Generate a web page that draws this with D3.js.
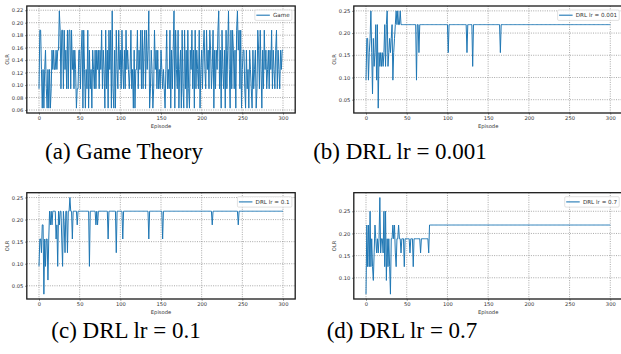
<!DOCTYPE html>
<html>
<head>
<meta charset="utf-8">
<script src="https://cdn.jsdelivr.net/npm/d3@7/dist/d3.min.js"></script>
<style>
  body { margin: 0; background: #fff; }
  svg { display: block; }
</style>
</head>
<body>
<svg id="fig" width="621" height="354"></svg>
<script>
// OLR per episode (episode = array index, 0..300)
const olrGame = [
  0.094,0.188,0.188,0.125,0.063,0.125,0.063,0.125,0.156,0.094,
  0.063,0.125,0.063,0.125,0.063,0.094,0.156,0.125,0.156,0.125,
  0.125,0.156,0.125,0.156,0.156,0.219,0.188,0.094,0.188,0.188,
  0.094,0.188,0.125,0.156,0.094,0.188,0.094,0.188,0.188,0.094,
  0.188,0.125,0.156,0.094,0.156,0.125,0.063,0.094,0.094,0.156,
  0.156,0.094,0.156,0.188,0.063,0.188,0.125,0.063,0.125,0.094,
  0.188,0.063,0.156,0.094,0.125,0.063,0.156,0.125,0.094,0.156,
  0.094,0.156,0.125,0.156,0.094,0.156,0.125,0.188,0.094,0.156,
  0.125,0.063,0.188,0.094,0.156,0.063,0.188,0.125,0.188,0.063,
  0.219,0.094,0.063,0.156,0.063,0.188,0.125,0.094,0.188,0.125,
  0.156,0.094,0.188,0.125,0.094,0.156,0.094,0.188,0.125,0.156,
  0.125,0.094,0.125,0.188,0.094,0.125,0.063,0.156,0.063,0.125,
  0.125,0.188,0.094,0.156,0.125,0.188,0.094,0.188,0.094,0.156,
  0.188,0.094,0.188,0.125,0.156,0.219,0.063,0.094,0.156,0.125,
  0.063,0.094,0.188,0.125,0.156,0.094,0.156,0.094,0.125,0.094,
  0.156,0.125,0.094,0.125,0.094,0.063,0.125,0.188,0.094,0.125,
  0.094,0.188,0.063,0.156,0.094,0.156,0.219,0.063,0.188,0.125,
  0.094,0.188,0.063,0.125,0.156,0.063,0.188,0.094,0.063,0.188,
  0.094,0.156,0.063,0.188,0.094,0.063,0.156,0.125,0.188,0.094,
  0.156,0.063,0.188,0.094,0.156,0.125,0.094,0.188,0.063,0.125,
  0.156,0.094,0.156,0.188,0.125,0.094,0.188,0.125,0.156,0.094,
  0.188,0.156,0.094,0.125,0.188,0.063,0.156,0.094,0.156,0.125,
  0.188,0.219,0.094,0.156,0.063,0.188,0.125,0.094,0.156,0.063,
  0.188,0.094,0.156,0.219,0.125,0.063,0.188,0.094,0.188,0.156,
  0.094,0.156,0.063,0.188,0.219,0.156,0.188,0.094,0.188,0.063,
  0.125,0.156,0.156,0.094,0.063,0.156,0.094,0.125,0.063,0.156,
  0.125,0.094,0.063,0.156,0.094,0.125,0.156,0.063,0.094,0.188,
  0.156,0.094,0.188,0.125,0.063,0.156,0.094,0.188,0.125,0.156,
  0.094,0.125,0.156,0.094,0.156,0.125,0.188,0.094,0.156,0.125,
  0.094,0.156,0.188,0.094,0.156,0.125,0.094,0.156,0.125,0.156,
  0.156
];

const olrLr0001 = [
  0.094,0.188,0.188,0.094,0.156,0.188,0.250,0.156,0.063,0.188,
  0.125,0.156,0.219,0.094,0.219,0.031,0.156,0.125,0.156,0.125,
  0.156,0.125,0.156,0.219,0.125,0.219,0.250,0.125,0.156,0.188,
  0.156,0.188,0.219,0.094,0.156,0.188,0.219,0.250,0.219,0.250,
  0.219,0.219,0.250,0.219,0.219,0.219,0.219,0.219,0.219,0.219,
  0.219,0.219,0.219,0.219,0.219,0.219,0.219,0.219,0.219,0.219,
  0.219,0.219,0.094,0.219,0.219,0.156,0.219,0.219,0.219,0.219,
  0.219,0.219,0.219,0.219,0.219,0.219,0.219,0.219,0.219,0.219,
  0.219,0.219,0.219,0.219,0.219,0.219,0.219,0.219,0.219,0.219,
  0.219,0.219,0.219,0.219,0.219,0.219,0.219,0.219,0.219,0.219,
  0.219,0.156,0.219,0.219,0.219,0.219,0.219,0.219,0.219,0.219,
  0.219,0.219,0.219,0.219,0.219,0.219,0.219,0.219,0.219,0.219,
  0.219,0.219,0.219,0.219,0.156,0.219,0.219,0.219,0.219,0.219,
  0.219,0.125,0.219,0.219,0.219,0.219,0.219,0.219,0.219,0.219,
  0.219,0.219,0.219,0.219,0.219,0.219,0.219,0.219,0.219,0.219,
  0.219,0.219,0.219,0.219,0.219,0.219,0.219,0.219,0.219,0.219,
  0.219,0.219,0.219,0.219,0.219,0.156,0.219,0.219,0.219,0.219,
  0.219,0.219,0.219,0.219,0.219,0.219,0.219,0.219,0.219,0.219,
  0.219,0.219,0.219,0.219,0.219,0.219,0.219,0.219,0.219,0.219,
  0.219,0.219,0.219,0.219,0.219,0.219,0.219,0.219,0.219,0.219,
  0.219,0.219,0.219,0.219,0.219,0.219,0.219,0.219,0.219,0.219,
  0.219,0.219,0.219,0.219,0.219,0.219,0.219,0.219,0.219,0.219,
  0.219,0.219,0.219,0.219,0.219,0.219,0.219,0.219,0.219,0.219,
  0.219,0.219,0.219,0.219,0.219,0.219,0.219,0.219,0.219,0.219,
  0.219,0.219,0.219,0.219,0.219,0.219,0.219,0.219,0.219,0.219,
  0.219,0.219,0.219,0.219,0.219,0.219,0.219,0.219,0.219,0.219,
  0.219,0.219,0.219,0.219,0.219,0.219,0.219,0.219,0.219,0.219,
  0.219,0.219,0.219,0.219,0.219,0.219,0.219,0.219,0.219,0.219,
  0.219,0.219,0.219,0.219,0.219,0.219,0.219,0.219,0.219,0.219,
  0.219,0.219,0.219,0.219,0.219,0.219,0.219,0.219,0.219,0.219,
  0.219
];

const olrLr01 = [
  0.094,0.156,0.156,0.125,0.188,0.188,0.031,0.156,0.094,0.156,
  0.156,0.063,0.156,0.219,0.188,0.219,0.188,0.219,0.219,0.219,
  0.219,0.156,0.188,0.094,0.219,0.188,0.219,0.219,0.156,0.094,
  0.219,0.188,0.125,0.219,0.219,0.125,0.219,0.219,0.250,0.219,
  0.219,0.156,0.219,0.219,0.219,0.219,0.219,0.188,0.219,0.219,
  0.219,0.219,0.219,0.219,0.219,0.219,0.219,0.219,0.219,0.219,
  0.219,0.219,0.094,0.219,0.219,0.219,0.219,0.219,0.219,0.219,
  0.188,0.219,0.188,0.219,0.219,0.219,0.219,0.219,0.219,0.219,
  0.219,0.219,0.219,0.219,0.219,0.156,0.219,0.219,0.219,0.219,
  0.219,0.219,0.219,0.219,0.219,0.125,0.219,0.219,0.219,0.219,
  0.219,0.219,0.219,0.156,0.219,0.219,0.219,0.219,0.219,0.219,
  0.219,0.219,0.219,0.219,0.219,0.219,0.219,0.219,0.219,0.219,
  0.219,0.219,0.219,0.219,0.219,0.219,0.219,0.219,0.219,0.219,
  0.219,0.219,0.219,0.219,0.219,0.156,0.219,0.219,0.219,0.219,
  0.219,0.219,0.219,0.219,0.219,0.219,0.219,0.219,0.219,0.219,
  0.219,0.219,0.156,0.219,0.219,0.219,0.219,0.219,0.219,0.219,
  0.219,0.219,0.219,0.219,0.219,0.219,0.219,0.219,0.219,0.219,
  0.219,0.219,0.219,0.219,0.219,0.219,0.219,0.219,0.219,0.219,
  0.219,0.219,0.219,0.219,0.219,0.219,0.219,0.219,0.219,0.219,
  0.219,0.219,0.219,0.219,0.219,0.219,0.219,0.219,0.219,0.219,
  0.219,0.219,0.219,0.219,0.219,0.219,0.219,0.219,0.219,0.219,
  0.219,0.219,0.219,0.188,0.219,0.219,0.219,0.219,0.219,0.219,
  0.219,0.219,0.219,0.219,0.219,0.219,0.219,0.219,0.219,0.219,
  0.219,0.219,0.219,0.219,0.219,0.219,0.219,0.219,0.219,0.219,
  0.219,0.219,0.219,0.219,0.219,0.188,0.219,0.219,0.219,0.219,
  0.219,0.219,0.219,0.219,0.219,0.219,0.219,0.219,0.219,0.219,
  0.219,0.219,0.219,0.219,0.219,0.219,0.219,0.219,0.219,0.219,
  0.219,0.219,0.219,0.219,0.219,0.219,0.219,0.219,0.219,0.219,
  0.219,0.219,0.219,0.219,0.219,0.219,0.219,0.219,0.219,0.219,
  0.219,0.219,0.219,0.219,0.219,0.219,0.219,0.219,0.219,0.219,
  0.219
];

const olrLr07 = [
  0.063,0.219,0.125,0.219,0.125,0.250,0.125,0.188,0.125,0.094,
  0.156,0.219,0.188,0.156,0.188,0.156,0.188,0.281,0.156,0.188,
  0.188,0.156,0.250,0.125,0.250,0.094,0.188,0.125,0.188,0.125,
  0.063,0.188,0.188,0.219,0.188,0.219,0.156,0.125,0.188,0.188,
  0.219,0.188,0.188,0.156,0.188,0.188,0.188,0.125,0.188,0.188,
  0.188,0.188,0.188,0.188,0.156,0.188,0.188,0.188,0.125,0.188,
  0.188,0.188,0.188,0.188,0.188,0.188,0.188,0.156,0.188,0.188,
  0.188,0.188,0.188,0.188,0.188,0.188,0.188,0.156,0.219,0.219,
  0.219,0.219,0.219,0.219,0.219,0.219,0.219,0.219,0.219,0.219,
  0.219,0.219,0.219,0.219,0.219,0.219,0.219,0.219,0.219,0.219,
  0.219,0.219,0.219,0.219,0.219,0.219,0.219,0.219,0.219,0.219,
  0.219,0.219,0.219,0.219,0.219,0.219,0.219,0.219,0.219,0.219,
  0.219,0.219,0.219,0.219,0.219,0.219,0.219,0.219,0.219,0.219,
  0.219,0.219,0.219,0.219,0.219,0.219,0.219,0.219,0.219,0.219,
  0.219,0.219,0.219,0.219,0.219,0.219,0.219,0.219,0.219,0.219,
  0.219,0.219,0.219,0.219,0.219,0.219,0.219,0.219,0.219,0.219,
  0.219,0.219,0.219,0.219,0.219,0.219,0.219,0.219,0.219,0.219,
  0.219,0.219,0.219,0.219,0.219,0.219,0.219,0.219,0.219,0.219,
  0.219,0.219,0.219,0.219,0.219,0.219,0.219,0.219,0.219,0.219,
  0.219,0.219,0.219,0.219,0.219,0.219,0.219,0.219,0.219,0.219,
  0.219,0.219,0.219,0.219,0.219,0.219,0.219,0.219,0.219,0.219,
  0.219,0.219,0.219,0.219,0.219,0.219,0.219,0.219,0.219,0.219,
  0.219,0.219,0.219,0.219,0.219,0.219,0.219,0.219,0.219,0.219,
  0.219,0.219,0.219,0.219,0.219,0.219,0.219,0.219,0.219,0.219,
  0.219,0.219,0.219,0.219,0.219,0.219,0.219,0.219,0.219,0.219,
  0.219,0.219,0.219,0.219,0.219,0.219,0.219,0.219,0.219,0.219,
  0.219,0.219,0.219,0.219,0.219,0.219,0.219,0.219,0.219,0.219,
  0.219,0.219,0.219,0.219,0.219,0.219,0.219,0.219,0.219,0.219,
  0.219,0.219,0.219,0.219,0.219,0.219,0.219,0.219,0.219,0.219,
  0.219,0.219,0.219,0.219,0.219,0.219,0.219,0.219,0.219,0.219,
  0.219
];

const xTicks = [0, 50, 100, 150, 200, 250, 300];
const yTicksGame = [0.06, 0.08, 0.10, 0.12, 0.14, 0.16, 0.18, 0.20, 0.22];
const yTicksDrl = [0.05, 0.10, 0.15, 0.20, 0.25];
const yTicksLr07 = [0.10, 0.15, 0.20, 0.25];
const legendNames = ["Game", "DRL lr = 0.001", "DRL lr = 0.1", "DRL lr = 0.7"];
const captions = ["(a) Game Theory", "(b) DRL lr = 0.001", "(c) DRL lr = 0.1", "(d) DRL lr = 0.7"];

const svg = d3.select("#fig");
const blue = "#1f77b4";
const tickFont = "DejaVu Sans";
const captionFont = "'Liberation Serif', 'Times New Roman', Times, 'DejaVu Serif', serif";

const panels = [
  { data: olrGame,   yTicks: yTicksGame, box: { l: 26.8,  r: 295.2, t: 6,     b: 113 }, cap: { x: 124, y: 158.5 } },
  { data: olrLr0001, yTicks: yTicksDrl,  box: { l: 353.8, r: 622.5, t: 6,     b: 113 }, cap: { x: 400, y: 158.5 } },
  { data: olrLr01,   yTicks: yTicksDrl,  box: { l: 26.8,  r: 295.2, t: 192.7, b: 299 }, cap: { x: 126, y: 337.5 } },
  { data: olrLr07,   yTicks: yTicksLr07, box: { l: 353.8, r: 622.5, t: 192.7, b: 299 }, cap: { x: 402, y: 337.5 } }
];

panels.forEach((p, k) => {
  const box = p.box;
  const n = p.data.length;

  // matplotlib style 5% margins
  const [ymin, ymax] = d3.extent(p.data);
  const ypad = (ymax - ymin) * 0.05;
  const xpad = (n - 1) * 0.05;

  const x = d3.scaleLinear().domain([-xpad, n - 1 + xpad]).range([box.l, box.r]);
  const y = d3.scaleLinear().domain([ymin - ypad, ymax + ypad]).range([box.b, box.t]);

  const g = svg.append("g");

  // grid
  g.append("g")
    .selectAll("line.gx")
    .data(xTicks)
    .enter().append("line")
    .attr("x1", d => x(d)).attr("x2", d => x(d))
    .attr("y1", box.t).attr("y2", box.b)
    .attr("stroke", "#8c8c8c").attr("stroke-width", 0.75)
    .attr("stroke-dasharray", "1,1.3");

  g.append("g")
    .selectAll("line.gy")
    .data(p.yTicks)
    .enter().append("line")
    .attr("x1", box.l).attr("x2", box.r)
    .attr("y1", d => y(d)).attr("y2", d => y(d))
    .attr("stroke", "#8c8c8c").attr("stroke-width", 0.75)
    .attr("stroke-dasharray", "1,1.3");

  // axes
  const xAxis = d3.axisBottom(x).tickValues(xTicks).tickSize(1.8).tickPadding(1.3).tickFormat(d3.format("d"));
  const yAxis = d3.axisLeft(y).tickValues(p.yTicks).tickSize(1.8).tickPadding(1.6).tickFormat(d3.format(".2f"));

  const gx = g.append("g").attr("transform", `translate(0,${box.b})`).call(xAxis);
  const gy = g.append("g").attr("transform", `translate(${box.l},0)`).call(yAxis);
  [gx, gy].forEach(ax => {
    ax.select(".domain").remove();
    ax.selectAll("line").attr("stroke", "#333").attr("stroke-width", 0.5);
    ax.selectAll("text").attr("font-family", tickFont).attr("font-size", 5.2).attr("fill", "#333");
  });

  // series
  const line = d3.line()
    .x((d, i) => x(i))
    .y(d => y(d));

  g.append("path")
    .datum(p.data)
    .attr("d", line)
    .attr("fill", "none")
    .attr("stroke", blue)
    .attr("stroke-width", 1)
    .attr("stroke-linejoin", "round");

  // frame
  g.append("rect")
    .attr("x", box.l).attr("y", box.t)
    .attr("width", box.r - box.l).attr("height", box.b - box.t)
    .attr("fill", "none").attr("stroke", "#1a1a1a").attr("stroke-width", 1.3);

  // axis labels
  g.append("text")
    .attr("x", (box.l + box.r) / 2).attr("y", box.b + 14.5)
    .attr("text-anchor", "middle")
    .attr("font-family", tickFont).attr("font-size", 5.2).attr("fill", "#333")
    .text("Episode");

  g.append("text")
    .attr("transform", `translate(${box.l - 17.6},${(box.t + box.b) / 2}) rotate(-90)`)
    .attr("text-anchor", "middle")
    .attr("font-family", tickFont).attr("font-size", 5.2).attr("fill", "#333")
    .text("OLR");

  // legend
  const leg = g.append("g");
  const legText = leg.append("text")
    .attr("font-family", tickFont).attr("font-size", 5.6).attr("fill", "#333")
    .text(legendNames[k]);
  const tw = legText.node().getComputedTextLength();
  const lw = 1.5 + 13.5 + 3.2 + tw + 2.2;
  const lh = 10.4;
  const lx = box.r - 3.3 - lw;
  const ly = box.t + 4;
  leg.insert("rect", "text")
    .attr("x", lx).attr("y", ly).attr("width", lw).attr("height", lh)
    .attr("rx", 1.2)
    .attr("fill", "#fff").attr("fill-opacity", 0.85)
    .attr("stroke", "#cccccc").attr("stroke-width", 0.6);
  leg.insert("line", "text")
    .attr("x1", lx + 1.5).attr("x2", lx + 15)
    .attr("y1", ly + lh / 2).attr("y2", ly + lh / 2)
    .attr("stroke", blue).attr("stroke-width", 1.1);
  legText.attr("x", lx + 1.5 + 13.5 + 3.2).attr("y", ly + lh / 2 + 2);

  // caption
  svg.append("text")
    .attr("x", p.cap.x).attr("y", p.cap.y)
    .attr("text-anchor", "middle")
    .attr("font-family", captionFont).attr("font-size", 23).attr("fill", "#000")
    .text(captions[k]);
});
</script>
</body>
</html>
